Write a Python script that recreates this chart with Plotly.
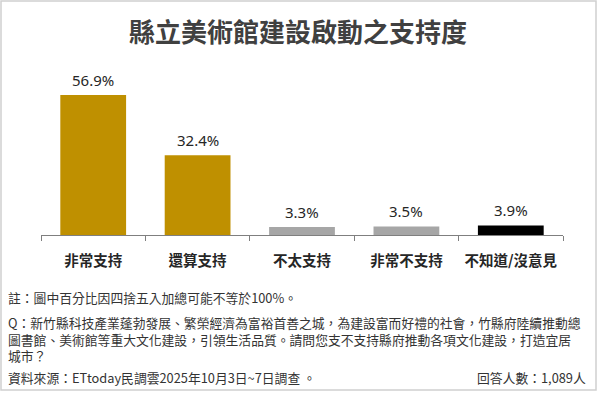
import plotly.graph_objects as go

categories = ["非常支持", "還算支持", "不太支持", "非常不支持", "不知道/沒意見"]
values = [56.9, 32.4, 3.3, 3.5, 3.9]
value_labels = ["56.9%", "32.4%", "3.3%", "3.5%", "3.9%"]
bar_colors = ["#BF9000", "#BF9000", "#A6A6A6", "#A6A6A6", "#000000"]

title_text = "縣立美術館建設啟動之支持度"
note_text = "註：圖中百分比因四捨五入加總可能不等於100%。"
question_lines = [
    "Q：新竹縣科技產業蓬勃發展、繁榮經濟為富裕首善之城，為建設富而好禮的社會，竹縣府陸續推動總",
    "圖書館、美術館等重大文化建設，引領生活品質。請問您支不支持縣府推動各項文化建設，打造宜居",
    "城市？",
]
source_text = "資料來源：ETtoday民調雲2025年10月3日~7日調查 。"
sample_text = "回答人數：1,089人"

W, H = 600, 393
ML, MR, MT, MB = 41, 37, 75, 158
PW, PH = W - ML - MR, H - MT - MB


def px(x):
    return (x - ML) / PW


def py(y):
    return (H - MB - y) / PH


CJK = "Noto Sans CJK TC"
FOOT = dict(family=CJK, size=12.8, color="#333333")

fig = go.Figure()
fig.add_trace(go.Bar(
    x=categories, y=values, marker=dict(color=bar_colors, line=dict(width=0)),
    width=0.63, hoverinfo="skip",
))

annotations = []
for c, v, lab in zip(categories, values, value_labels):
    annotations.append(dict(x=c, y=v, xref="x", yref="y", text=lab, showarrow=False,
                            yanchor="middle", yshift=15,
                            font=dict(family="Noto Sans", size=15, color="#262626")))

annotations.append(dict(x=px(298), y=py(30), xref="paper", yref="paper", text=title_text,
                        showarrow=False, xanchor="center", yanchor="middle",
                        font=dict(family=CJK, size=26, color="#404040", weight="bold")))

annotations.append(dict(x=px(6), y=py(297), xref="paper", yref="paper", text=note_text,
                        showarrow=False, xanchor="left", yanchor="middle", font=FOOT))
annotations.append(dict(x=px(6), y=py(339), xref="paper", yref="paper",
                        text="<br>".join(question_lines), align="left",
                        showarrow=False, xanchor="left", yanchor="middle", font=FOOT))
annotations.append(dict(x=px(6), y=py(377), xref="paper", yref="paper", text=source_text,
                        showarrow=False, xanchor="left", yanchor="middle", font=FOOT))
annotations.append(dict(x=px(588), y=py(377), xref="paper", yref="paper", text=sample_text,
                        showarrow=False, xanchor="right", yanchor="middle", font=FOOT))

shapes = [dict(type="rect", xref="paper", yref="paper",
               x0=px(1), x1=px(596), y0=py(390), y1=py(1),
               line=dict(color="#D0D0D0", width=1.5), fillcolor="rgba(0,0,0,0)", layer="below")]

fig.update_layout(
    width=W, height=H, margin=dict(l=ML, r=MR, t=MT, b=MB),
    paper_bgcolor="white", plot_bgcolor="white", showlegend=False,
    annotations=annotations, shapes=shapes,
    xaxis=dict(showgrid=False, showline=True, linecolor="#7F7F7F", linewidth=1,
               ticks="outside", ticklen=5, tickcolor="#7F7F7F", tickson="boundaries",
               ticklabelstandoff=13,
               tickfont=dict(family=CJK, size=14.5, color="#262626", weight=600)),
    yaxis=dict(range=[0, 65], visible=False, showgrid=False, zeroline=False),
)

fig.write_html("out.html", config={"displayModeBar": False},
               post_script="document.body.style.margin='0';")
